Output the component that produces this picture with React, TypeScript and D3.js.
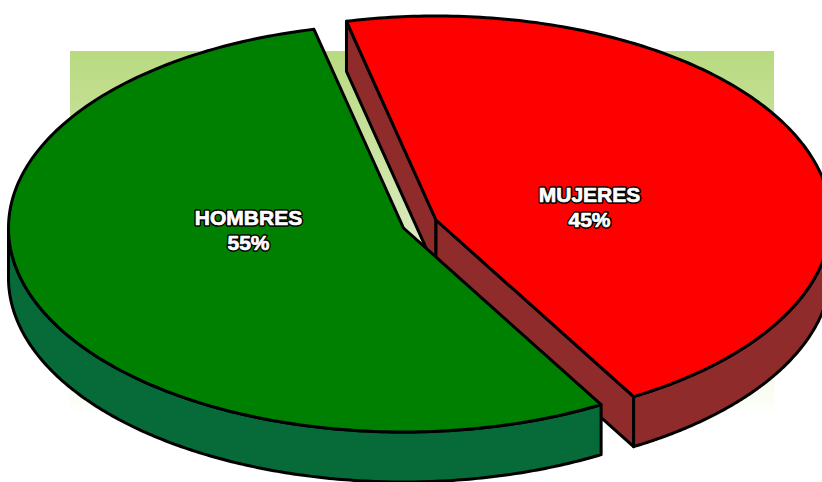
import React from "react";
import * as d3 from "d3";

const categories = ["MUJERES", "HOMBRES"];
const shares = [45.3, 54.7];
const topColors = ["#ff0000", "#008000"];
const sideColors = ["#8f2b2b", "#076a39"];
const centers: [number, number][] = [[436, 220], [403.5, 228]];
const labelPositions: [number, number][] = [[589.5, 194], [248.5, 217]];

const W = 822, H = 482, RX = 395, RY = 204, DEPTH = 50;
const startDeg = -13.1;

export default function App() {
  const pie = d3.pie<number>().sort(null).startAngle((startDeg * Math.PI) / 180).endAngle(((startDeg + 360) * Math.PI) / 180);
  const arcs = pie(shares);
  const line = d3.line<[number, number]>().curve(d3.curveLinear);
  const proj = (c: [number, number], a: number, dz = 0): [number, number] => [
    c[0] + RX * Math.sin(a),
    c[1] - RY * Math.cos(a) + dz,
  ];
  const samples = (a0: number, a1: number) => d3.range(0, 201).map((i) => a0 + ((a1 - a0) * i) / 200);
  const stroke = { stroke: "#000", strokeWidth: 3, strokeLinejoin: "round" as const };

  const top = (i: number) => {
    const c = centers[i];
    const { startAngle: s, endAngle: e } = arcs[i];
    return line([c, ...samples(s, e).map((a) => proj(c, a))]) + "Z";
  };
  const outerSide = (i: number, a0: number, a1: number) => {
    const c = centers[i];
    const upper = samples(a0, a1).map((a) => proj(c, a));
    const lower = samples(a1, a0).map((a) => proj(c, a, DEPTH));
    return line([...upper, ...lower]) + "Z";
  };
  const wall = (i: number, a: number) => {
    const c = centers[i];
    const p = proj(c, a);
    return line([c, p, [p[0], p[1] + DEPTH], [c[0], c[1] + DEPTH]]) + "Z";
  };

  const red = arcs[0];
  const green = arcs[1];

  const label = (i: number, strokeColor: string, sw: number) => (
    <text
      key={categories[i] + strokeColor}
      textAnchor="middle"
      fontSize={21}
      fontWeight="bold"
      fill="#fff"
      stroke={strokeColor}
      strokeWidth={sw}
      strokeLinejoin="round"
    >
      <tspan x={labelPositions[i][0]} y={labelPositions[i][1] + 8}>{categories[i]}</tspan>
      <tspan x={labelPositions[i][0]} y={labelPositions[i][1] + 33}>{Math.round(shares[i])}%</tspan>
    </text>
  );

  return (
    <svg width={W} height={H} style={{ position: "absolute", left: 0, top: 0 }} fontFamily="'Liberation Sans', Arial, sans-serif">
      <defs>
        <linearGradient id="bg" x1="0" y1="0" x2="0" y2="1">
          <stop offset="0" stopColor="#b9da80" />
          <stop offset="0.45" stopColor="#d5e8b4" />
          <stop offset="1" stopColor="#fdfffa" />
        </linearGradient>
      </defs>
      <rect x={70} y={51} width={704} height={360} fill="url(#bg)" />

      <path d={wall(0, red.startAngle)} fill={sideColors[0]} {...stroke} />
      <path d={wall(0, red.endAngle)} fill={sideColors[0]} {...stroke} />
      <path d={outerSide(0, Math.PI / 2, red.endAngle)} fill={sideColors[0]} {...stroke} />
      <path d={top(0)} fill={topColors[0]} {...stroke} />

      <path d={outerSide(1, green.startAngle, (3 * Math.PI) / 2)} fill={sideColors[1]} {...stroke} />
      <path d={top(1)} fill={topColors[1]} {...stroke} />

      {categories.map((_, i) => label(i, "#000", 3.6))}
      {categories.map((_, i) => label(i, "#fff", 0.7))}
    </svg>
  );
}
